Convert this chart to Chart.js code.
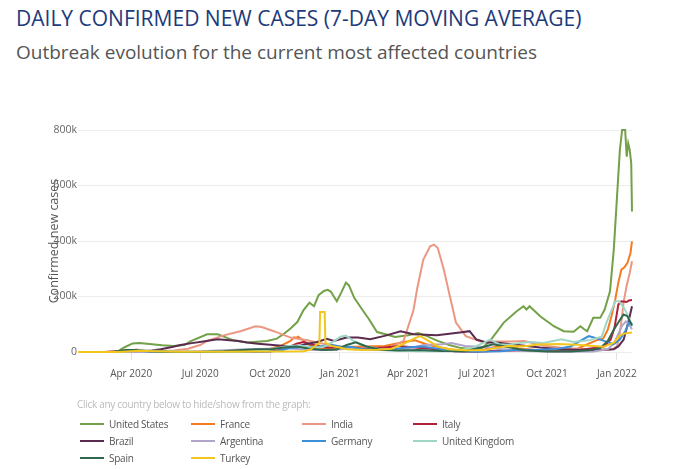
<!DOCTYPE html>
<html>
<head>
<meta charset="utf-8">
<script src="https://cdn.jsdelivr.net/npm/chart.js@4.4.1/dist/chart.umd.min.js"></script>
<style>
  html, body { margin: 0; padding: 0; background: #fff; }
  body { width: 700px; height: 469px; position: relative; overflow: hidden; font-family: 'Open Sans', sans-serif; }
  h1 { position: absolute; left: 16px; top: 4px; margin: 0; font-size: 21px; font-weight: 400; color: #1d3a7a; white-space: nowrap; }
  h2 { position: absolute; left: 16px; top: 39px; margin: 0; font-size: 19px; font-weight: 400; color: #555; white-space: nowrap; }
  #chartBox { position: absolute; left: 0; top: 100px; width: 700px; height: 300px; }
  #hint { position: absolute; left: 77px; top: 397px; font-size: 10px; letter-spacing: -0.3px; color: #bbb; white-space: nowrap; }
  #legend { position: absolute; left: 80px; top: 416px; display: grid; grid-template-columns: repeat(4, 111px); }
  .item { height: 16.7px; display: flex; align-items: center; font-size: 10px; letter-spacing: -0.25px; color: #555; white-space: nowrap; }
  .swatch { width: 24px; height: 2px; margin-right: 5px; flex: none; }
</style>
</head>
<body>
<h1>DAILY CONFIRMED NEW CASES (7-DAY MOVING AVERAGE)</h1>
<h2>Outbreak evolution for the current most affected countries</h2>
<div id="chartBox"><canvas id="mainChart" width="700" height="300"></canvas></div>
<div id="hint">Click any country below to hide/show from the graph:</div>
<div id="legend"></div>
<script>
// Values are thousands of cases (7-day moving average)
const usCases = [
  ['2020-01-22', 0], ['2020-03-08', 0], ['2020-03-16', 5], ['2020-03-24', 18], ['2020-04-03', 31],
  ['2020-04-12', 32], ['2020-04-25', 29], ['2020-05-12', 24], ['2020-05-27', 22], ['2020-06-10', 25],
  ['2020-06-18', 38], ['2020-07-10', 64], ['2020-07-24', 64], ['2020-08-14', 42], ['2020-09-01', 34],
  ['2020-09-27', 40], ['2020-10-10', 48], ['2020-10-19', 65], ['2020-10-28', 85], ['2020-11-06', 108],
  ['2020-11-14', 150], ['2020-11-22', 178], ['2020-11-28', 165], ['2020-12-04', 205], ['2020-12-11', 220],
  ['2020-12-16', 224], ['2020-12-20', 218], ['2020-12-28', 183], ['2021-01-03', 215], ['2021-01-09', 250],
  ['2021-01-13', 240], ['2021-01-20', 195], ['2021-01-30', 155], ['2021-02-08', 120], ['2021-02-19', 72],
  ['2021-03-01', 65], ['2021-03-15', 54], ['2021-04-01', 60], ['2021-04-14', 68], ['2021-04-25', 58],
  ['2021-05-10', 40], ['2021-05-25', 25], ['2021-06-10', 14], ['2021-06-25', 11], ['2021-07-08', 15],
  ['2021-07-18', 40], ['2021-08-05', 106], ['2021-08-22', 147], ['2021-08-31', 165], ['2021-09-04', 153],
  ['2021-09-08', 165], ['2021-09-22', 129], ['2021-10-10', 93], ['2021-10-23', 75], ['2021-11-05', 73],
  ['2021-11-14', 93], ['2021-11-19', 82], ['2021-11-23', 75], ['2021-12-01', 123], ['2021-12-10', 123],
  ['2021-12-16', 153], ['2021-12-23', 219], ['2021-12-28', 369], ['2022-01-01', 548], ['2022-01-05', 728],
  ['2022-01-08', 800], ['2022-01-12', 800], ['2022-01-14', 704], ['2022-01-16', 752], ['2022-01-18', 728],
  ['2022-01-20', 680], ['2022-01-21', 506]
];
const franceCases = [
  ['2020-01-22', 0], ['2020-03-01', 0], ['2020-03-20', 3], ['2020-04-01', 5], ['2020-04-08', 9],
  ['2020-04-14', 5], ['2020-05-01', 1.5], ['2020-06-15', 0.5], ['2020-07-15', 0.8], ['2020-08-15', 3],
  ['2020-09-10', 8], ['2020-10-01', 12], ['2020-10-15', 22], ['2020-10-28', 40], ['2020-11-02', 53],
  ['2020-11-04', 50], ['2020-11-07', 55], ['2020-11-12', 45], ['2020-11-20', 28], ['2020-12-01', 10],
  ['2020-12-20', 12], ['2021-01-10', 18], ['2021-02-01', 20], ['2021-03-01', 22], ['2021-03-25', 35],
  ['2021-04-10', 42], ['2021-04-25', 28], ['2021-05-15', 15], ['2021-06-10', 3], ['2021-07-01', 2.5],
  ['2021-07-20', 15], ['2021-08-05', 24], ['2021-08-25', 13], ['2021-09-20', 6], ['2021-10-15', 5],
  ['2021-11-10', 12], ['2021-11-25', 30], ['2021-12-05', 42], ['2021-12-14', 48], ['2021-12-20', 80],
  ['2021-12-25', 130], ['2021-12-30', 190], ['2022-01-03', 250], ['2022-01-07', 297], ['2022-01-11', 305],
  ['2022-01-15', 321], ['2022-01-19', 357], ['2022-01-21', 399]
];
const indiaCases = [
  ['2020-01-22', 0], ['2020-04-10', 0.5], ['2020-05-01', 2], ['2020-05-27', 5], ['2020-06-15', 12],
  ['2020-07-01', 25], ['2020-07-10', 40], ['2020-08-01', 60], ['2020-08-23', 75], ['2020-09-12', 93],
  ['2020-09-20', 90], ['2020-10-06', 75], ['2020-10-28', 52], ['2020-11-19', 42], ['2020-12-10', 30],
  ['2021-01-01', 20], ['2021-01-20', 15], ['2021-02-10', 11], ['2021-03-01', 14], ['2021-03-10', 18],
  ['2021-03-26', 40], ['2021-04-08', 150], ['2021-04-13', 230], ['2021-04-21', 333], ['2021-04-30', 381],
  ['2021-05-05', 387], ['2021-05-10', 375], ['2021-05-18', 297], ['2021-05-26', 201], ['2021-06-03', 106],
  ['2021-06-16', 57], ['2021-07-08', 36], ['2021-07-25', 38], ['2021-08-15', 38], ['2021-09-01', 40],
  ['2021-09-15', 30], ['2021-10-01', 22], ['2021-10-20', 15], ['2021-11-15', 11], ['2021-12-20', 7],
  ['2021-12-28', 12], ['2022-01-01', 20], ['2022-01-04', 50], ['2022-01-07', 110], ['2022-01-10', 180],
  ['2022-01-14', 240], ['2022-01-18', 285], ['2022-01-21', 327]
];
const italyCases = [
  ['2020-01-22', 0], ['2020-02-25', 0], ['2020-03-12', 2.5], ['2020-03-25', 5.5], ['2020-04-10', 4],
  ['2020-05-01', 1.8], ['2020-06-01', 0.4], ['2020-08-01', 0.3], ['2020-09-01', 1.3], ['2020-10-01', 2],
  ['2020-10-20', 10], ['2020-11-05', 30], ['2020-11-14', 36], ['2020-11-25', 27], ['2020-12-10', 17],
  ['2021-01-01', 15], ['2021-02-01', 12], ['2021-03-01', 16], ['2021-03-20', 22], ['2021-04-10', 16],
  ['2021-05-01', 12], ['2021-06-01', 3], ['2021-07-01', 0.8], ['2021-08-01', 5], ['2021-09-01', 5.5],
  ['2021-10-15', 3], ['2021-11-15', 8], ['2021-12-05', 15], ['2021-12-15', 20], ['2021-12-24', 45],
  ['2021-12-29', 88], ['2022-01-03', 171], ['2022-01-07', 183], ['2022-01-14', 180], ['2022-01-17', 186],
  ['2022-01-21', 187]
];
const brazilCases = [
  ['2020-01-22', 0], ['2020-03-15', 0], ['2020-04-10', 1.5], ['2020-04-28', 5], ['2020-05-10', 10],
  ['2020-05-25', 18], ['2020-06-05', 25], ['2020-06-20', 32], ['2020-07-05', 38], ['2020-07-24', 46],
  ['2020-08-01', 44], ['2020-08-20', 40], ['2020-09-01', 34], ['2020-09-15', 30], ['2020-10-01', 26],
  ['2020-10-20', 22], ['2020-11-05', 20], ['2020-11-19', 30], ['2020-12-01', 35], ['2020-12-15', 48],
  ['2020-12-24', 40], ['2021-01-10', 52], ['2021-01-25', 52], ['2021-02-10', 46], ['2021-03-01', 58],
  ['2021-03-22', 75], ['2021-04-08', 64], ['2021-05-09', 60], ['2021-06-08', 70], ['2021-06-21', 75],
  ['2021-06-30', 45], ['2021-07-13', 34], ['2021-07-26', 34], ['2021-09-04', 22], ['2021-09-22', 16],
  ['2021-10-18', 10], ['2021-12-01', 6], ['2021-12-28', 10], ['2022-01-03', 20], ['2022-01-10', 45],
  ['2022-01-13', 75], ['2022-01-16', 106], ['2022-01-18', 129], ['2022-01-21', 165]
];
const argentinaCases = [
  ['2020-01-22', 0], ['2020-05-01', 0.2], ['2020-06-01', 0.8], ['2020-07-01', 2.5], ['2020-08-01', 6],
  ['2020-09-01', 10], ['2020-10-01', 12], ['2020-10-20', 14], ['2020-11-10', 10], ['2020-12-01', 7],
  ['2020-12-20', 7], ['2021-01-10', 12], ['2021-02-01', 9], ['2021-03-01', 7], ['2021-04-01', 12],
  ['2021-04-20', 24], ['2021-05-15', 28], ['2021-05-28', 32], ['2021-06-15', 22], ['2021-07-10', 18],
  ['2021-08-01', 11], ['2021-09-01', 4], ['2021-10-01', 1.5], ['2021-11-01', 1.2], ['2021-12-01', 2],
  ['2021-12-20', 10], ['2021-12-28', 30], ['2022-01-03', 65], ['2022-01-08', 95], ['2022-01-13', 110],
  ['2022-01-17', 100], ['2022-01-21', 82]
];
const germanyCases = [
  ['2020-01-22', 0], ['2020-03-10', 0.5], ['2020-03-28', 5.5], ['2020-04-10', 4.5], ['2020-05-01', 1],
  ['2020-07-01', 0.4], ['2020-08-20', 1.3], ['2020-09-20', 1.8], ['2020-10-10', 4], ['2020-10-28', 14],
  ['2020-11-15', 19], ['2020-12-05', 19], ['2020-12-20', 26], ['2021-01-05', 18], ['2021-01-15', 19],
  ['2021-02-01', 10], ['2021-02-20', 8], ['2021-03-15', 11], ['2021-04-01', 17], ['2021-04-20', 20],
  ['2021-05-10', 12], ['2021-06-01', 3], ['2021-07-01', 0.6], ['2021-08-01', 2.5], ['2021-08-25', 8],
  ['2021-09-20', 7], ['2021-10-15', 12], ['2021-11-01', 20], ['2021-11-25', 57], ['2021-12-05', 50],
  ['2021-12-15', 40], ['2021-12-28', 28], ['2022-01-05', 45], ['2022-01-12', 75], ['2022-01-18', 110],
  ['2022-01-21', 100]
];
const ukCases = [
  ['2020-01-22', 0], ['2020-03-15', 0.5], ['2020-04-10', 5], ['2020-05-01', 4.5], ['2020-06-01', 1.5],
  ['2020-07-15', 0.6], ['2020-08-20', 1.1], ['2020-09-20', 4.5], ['2020-10-10', 14], ['2020-10-25', 22],
  ['2020-11-10', 23], ['2020-11-25', 16], ['2020-12-10', 18], ['2020-12-22', 35], ['2021-01-02', 55],
  ['2021-01-09', 59], ['2021-01-20', 38], ['2021-02-05', 20], ['2021-02-25', 9], ['2021-03-15', 5],
  ['2021-04-15', 2.6], ['2021-05-15', 2.3], ['2021-06-05', 5], ['2021-06-25', 16], ['2021-07-10', 34],
  ['2021-07-18', 45], ['2021-07-30', 28], ['2021-08-10', 26], ['2021-08-25', 32], ['2021-09-10', 36],
  ['2021-09-25', 32], ['2021-10-20', 46], ['2021-11-05', 36], ['2021-11-25', 42], ['2021-12-12', 55],
  ['2021-12-19', 110], ['2021-12-25', 150], ['2021-12-30', 183], ['2022-01-04', 183], ['2022-01-10', 160],
  ['2022-01-14', 141], ['2022-01-21', 93]
];
const spainCases = [
  ['2020-01-22', 0], ['2020-03-08', 0.3], ['2020-03-25', 7], ['2020-04-05', 7], ['2020-04-25', 3],
  ['2020-05-20', 0.5], ['2020-07-01', 0.3], ['2020-08-01', 2.5], ['2020-08-25', 7], ['2020-09-15', 10],
  ['2020-10-05', 11], ['2020-10-25', 18], ['2020-11-05', 20], ['2020-11-20', 13], ['2020-12-10', 7],
  ['2020-12-28', 9], ['2021-01-10', 25], ['2021-01-22', 35], ['2021-02-05', 20], ['2021-02-25', 7],
  ['2021-03-20', 5], ['2021-04-15', 7], ['2021-05-15', 4], ['2021-06-15', 3], ['2021-07-05', 15],
  ['2021-07-22', 28], ['2021-08-10', 18], ['2021-09-01', 6], ['2021-10-01', 2], ['2021-11-01', 2],
  ['2021-11-25', 6], ['2021-12-10', 14], ['2021-12-20', 40], ['2021-12-28', 80], ['2022-01-05', 115],
  ['2022-01-10', 135], ['2022-01-15', 129], ['2022-01-21', 95]
];
const turkeyCases = [
  ['2020-01-22', 0], ['2020-03-15', 0], ['2020-04-12', 4.5], ['2020-05-01', 2.5], ['2020-06-01', 1],
  ['2020-07-01', 1.3], ['2020-08-01', 1], ['2020-09-10', 1.6], ['2020-10-15', 1.8], ['2020-11-15', 3],
  ['2020-11-24', 10], ['2020-12-02', 28], ['2020-12-05', 30], ['2020-12-06', 144], ['2020-12-12', 144],
  ['2020-12-13', 34], ['2020-12-20', 22], ['2021-01-01', 16], ['2021-01-10', 10], ['2021-02-01', 7],
  ['2021-02-20', 8], ['2021-03-10', 12], ['2021-03-25', 28], ['2021-04-10', 50], ['2021-04-17', 57],
  ['2021-04-28', 40], ['2021-05-10', 20], ['2021-05-25', 10], ['2021-06-15', 6], ['2021-07-10', 6],
  ['2021-07-25', 14], ['2021-08-10', 22], ['2021-09-01', 21], ['2021-09-20', 27], ['2021-10-15', 29],
  ['2021-11-10', 26], ['2021-12-01', 22], ['2021-12-15', 19], ['2021-12-28', 34], ['2022-01-05', 60],
  ['2022-01-12', 67], ['2022-01-21', 70]
];

const countries = ['United States', 'France', 'India', 'Italy', 'Brazil', 'Argentina', 'Germany', 'United Kingdom', 'Spain', 'Turkey'];
const countrySeries = [usCases, franceCases, indiaCases, italyCases, brazilCases, argentinaCases, germanyCases, ukCases, spainCases, turkeyCases];
const countryColors = ['#72a147', '#f47b20', '#eb9883', '#b21f3b', '#5b2b4f', '#b0a4c8', '#3e8ed8', '#9fd6c6', '#30684d', '#f2c61c'];

const tickDates = ['2020-04-01', '2020-07-01', '2020-10-01', '2021-01-01', '2021-04-01', '2021-07-01', '2021-10-01', '2022-01-01'];
const tickLabels = ['Apr 2020', 'Jul 2020', 'Oct 2020', 'Jan 2021', 'Apr 2021', 'Jul 2021', 'Oct 2021', 'Jan 2022'];
const firstDate = '2020-01-22';
const lastDate = '2022-01-21';
const yTicks = [0, 200, 400, 600, 800];

const START = Date.parse(firstDate);
const dayOf = (s) => (Date.parse(s) - START) / 86400000;

const datasets = countries.map((name, i) => ({
  label: name,
  data: countrySeries[i].map(([d, v]) => ({ x: dayOf(d), y: v })),
  borderColor: countryColors[i],
  borderWidth: 2,
  pointRadius: 0,
  tension: 0,
  fill: false,
  clip: 5,
  order: countries.length - i
}));

new Chart(document.getElementById('mainChart'), {
  type: 'line',
  data: { datasets },
  options: {
    responsive: false,
    animation: false,
    parsing: false,
    layout: { padding: { left: 40, right: 68, top: 30, bottom: 12 } },
    plugins: { legend: { display: false }, tooltip: { enabled: false } },
    scales: {
      x: {
        type: 'linear',
        min: 0,
        max: dayOf(lastDate),
        border: { display: false },
        grid: { drawOnChartArea: false, drawTicks: true, tickLength: 8, color: '#e2e2e2' },
        afterBuildTicks(scale) {
          scale.ticks = tickDates.map((d) => ({ value: dayOf(d) }));
        },
        ticks: {
          autoSkip: false,
          maxRotation: 0,
          padding: 8,
          color: '#555',
          font: { family: 'Open Sans', size: 10 },
          callback: (v) => tickLabels[tickDates.findIndex((d) => dayOf(d) === v)]
        }
      },
      y: {
        min: 0,
        max: 800,
        border: { display: false },
        grid: { color: '#ececec', drawTicks: false },
        afterBuildTicks(scale) {
          scale.ticks = yTicks.map((v) => ({ value: v }));
        },
        ticks: {
          padding: 1,
          color: '#666',
          font: { family: 'Open Sans', size: 10.5 },
          callback: (v) => (v === 0 ? '0' : v + 'k')
        },
        title: {
          display: true,
          text: 'Confirmed new cases',
          color: '#555',
          font: { family: 'Open Sans', size: 12.5 },
          padding: { top: 6.5, bottom: -9 }
        }
      }
    }
  }
});

// HTML legend in a four-column grid
const legend = document.getElementById('legend');
countries.forEach((name, i) => {
  const item = document.createElement('div');
  item.className = 'item';
  item.innerHTML = `<span class="swatch" style="background:${countryColors[i]}"></span>${name}`;
  legend.appendChild(item);
});
</script>
</body>
</html>
